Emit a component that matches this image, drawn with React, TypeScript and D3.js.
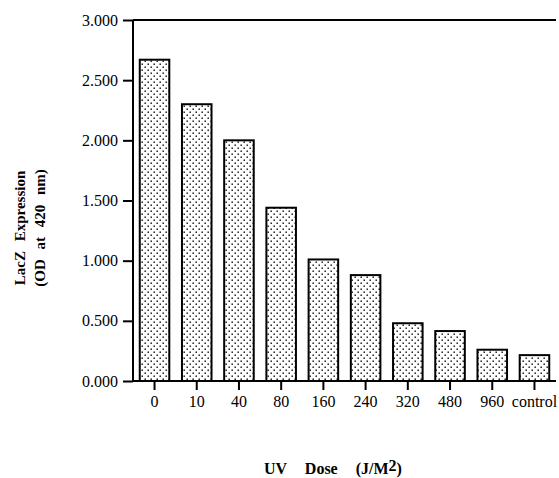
import React, { useEffect, useRef } from 'react';
import * as d3 from 'd3';

const doses = ['0', '10', '40', '80', '160', '240', '320', '480', '960', 'control'];
const expression = [2.67, 2.3, 2.0, 1.44, 1.01, 0.88, 0.48, 0.415, 0.26, 0.215];
const yTicks = [0, 0.5, 1.0, 1.5, 2.0, 2.5, 3.0];

const W = 559;
const H = 478;

const App = () => {
  const svgRef = useRef<SVGSVGElement | null>(null);

  useEffect(() => {
    const svg = d3.select(svgRef.current);
    svg.selectAll('*').remove();

    const left = 133;
    const right = 556;
    const top = 20;
    const bottom = 381;

    // patron de puntos para las barras
    const pat = svg.append('defs').append('pattern')
      .attr('id', 'dots')
      .attr('patternUnits', 'userSpaceOnUse')
      .attr('width', 6)
      .attr('height', 6);
    pat.append('rect').attr('width', 6).attr('height', 6).attr('fill', '#fff');
    pat.append('rect').attr('x', 0.5).attr('y', 0.5).attr('width', 1.4).attr('height', 1.4).attr('fill', '#000');
    pat.append('rect').attr('x', 3.5).attr('y', 3.5).attr('width', 1.4).attr('height', 1.4).attr('fill', '#000');

    const x = d3.scaleBand()
      .domain(doses)
      .range([left, right])
      .paddingInner(0.3)
      .paddingOuter(0.16);

    const y = d3.scaleLinear().domain([0, 3]).range([bottom, top]);

    svg.append('g')
      .selectAll('rect')
      .data(doses)
      .enter()
      .append('rect')
      .attr('x', d => x(d)!)
      .attr('y', (d, i) => y(expression[i]))
      .attr('width', x.bandwidth())
      .attr('height', (d, i) => bottom - y(expression[i]))
      .attr('fill', 'url(#dots)')
      .attr('stroke', '#000')
      .attr('stroke-width', 2);

    // eje Y
    const yAxis = svg.append('g')
      .attr('transform', `translate(${left},0)`)
      .call(d3.axisLeft(y).tickValues(yTicks).tickFormat(d3.format('.3f')).tickSize(10).tickPadding(5));
    yAxis.select('.domain').attr('stroke-width', 2).attr('d', `M0,${top}V${bottom}`);
    yAxis.selectAll('.tick line').attr('stroke-width', 2);
    yAxis.selectAll('text')
      .style('font-family', '"Liberation Serif", "Times New Roman", serif')
      .style('font-size', '16px')
      .attr('fill', '#000');

    // linea superior
    svg.append('line')
      .attr('x1', left).attr('x2', right)
      .attr('y1', top).attr('y2', top)
      .attr('stroke', '#000').attr('stroke-width', 2);

    // eje X
    const xAxis = svg.append('g')
      .attr('transform', `translate(0,${bottom})`)
      .call(d3.axisBottom(x).tickSize(9).tickPadding(6));
    xAxis.select('.domain').attr('stroke-width', 2).attr('d', `M${left},0H${right}`);
    xAxis.selectAll('.tick line').attr('stroke-width', 2);
    xAxis.selectAll('text')
      .style('font-family', '"Liberation Serif", "Times New Roman", serif')
      .style('font-size', '16px')
      .attr('fill', '#000');

    // titulos
    const yTitle = svg.append('text')
      .attr('transform', 'translate(25,228) rotate(-90)')
      .attr('text-anchor', 'middle')
      .style('font-family', '"Liberation Serif", "Times New Roman", serif')
      .style('font-weight', 'bold')
      .style('font-size', '15px')
      .style('word-spacing', '6px');
    yTitle.append('tspan').attr('x', 0).attr('y', 0).text('LacZ Expression');
    yTitle.append('tspan').attr('x', 0).attr('y', 20).text('(OD at 420 nm)');

    const xTitle = svg.append('text')
      .attr('x', 264)
      .attr('y', 474)
      .attr('text-anchor', 'start')
      .style('font-family', '"Liberation Serif", "Times New Roman", serif')
      .style('font-weight', 'bold')
      .style('font-size', '16px')
      .style('word-spacing', '14px');
    xTitle.append('tspan').text('UV Dose (J/M');
    xTitle.append('tspan').attr('dy', -3).text('2');
    xTitle.append('tspan').attr('dy', 3).text(')');
  }, []);

  return (
    <svg
      ref={svgRef}
      width={W}
      height={H}
      style={{ position: 'absolute', left: 0, top: 0, background: '#fff' }}
    ></svg>
  );
};

export default App;
